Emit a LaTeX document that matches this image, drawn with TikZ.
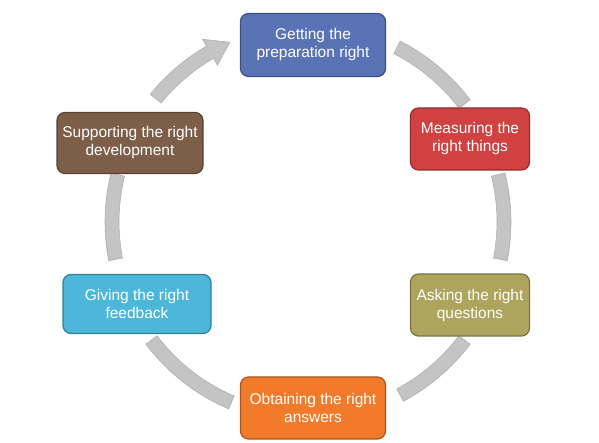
\documentclass[tikz,border=0pt]{standalone}
\usepackage{fontspec}
\setmainfont{Liberation Sans}
\usetikzlibrary{calc}
\definecolor{cblue}{HTML}{5A72B6}
\definecolor{cred}{HTML}{D04141}
\definecolor{colive}{HTML}{ADA55D}
\definecolor{corange}{HTML}{F27A2B}
\definecolor{clight}{HTML}{4CB7D8}
\definecolor{cbrown}{HTML}{7D5E48}
\definecolor{arcfill}{HTML}{C4C4C4}
\definecolor{arcedge}{HTML}{B0B0B0}
\tikzset{
  stagebox/.style={rounded corners=8pt, draw=#1!70!black, line width=1.2pt, fill=#1,
    text=white, align=center, inner sep=2pt,
    font=\fontsize{15.5}{18}\selectfont},
  band/.style={fill=arcfill, draw=arcedge, line width=0.6pt}
}
\begin{document}
\begin{tikzpicture}[x=1pt,y=1pt]
\useasboundingbox (0,0) rectangle (599,443);
\coordinate (c) at (308,221);
% arcs
\newcommand{\bandarc}[2]{%
  \draw[band] ($(c)+(#1:189)$) arc[start angle=#1,end angle=#2,radius=189]
    -- ($(c)+(#2:203)$) arc[start angle=#2,end angle=#1,radius=203] -- cycle;}
\bandarc{63}{37}
\bandarc{14}{-11}
\bandarc{-37}{-62}
\bandarc{-143}{-113}
\bandarc{166}{191}
% arrow arc toward top box
\draw[band] ($(c)+(141:189)$) arc[start angle=141,end angle=120,radius=189]
  -- ($(c)+(120:181)$) -- ($(c)+(113.5:196)$) -- ($(c)+(120:211)$)
  -- ($(c)+(120:203)$) arc[start angle=120,end angle=141,radius=203] -- cycle;
% boxes
\node[stagebox=cblue, minimum width=145pt, minimum height=63pt] (prep) at (313,398) {Getting the\\preparation right};
\node[stagebox=cred, minimum width=119pt, minimum height=62pt] (meas) at (470,304) {Measuring the\\right things};
\node[stagebox=colive, minimum width=119pt, minimum height=62pt] (ask) at (470,138) {Asking the right\\questions};
\node[stagebox=corange, minimum width=145pt, minimum height=62pt] (obt) at (313,35) {Obtaining the right\\answers};
\node[stagebox=clight, minimum width=148pt, minimum height=59pt] (give) at (137,139) {Giving the right\\feedback};
\node[stagebox=cbrown, minimum width=146pt, minimum height=61pt] (supp) at (130,300) {Supporting the right\\development};
\end{tikzpicture}
\end{document}
